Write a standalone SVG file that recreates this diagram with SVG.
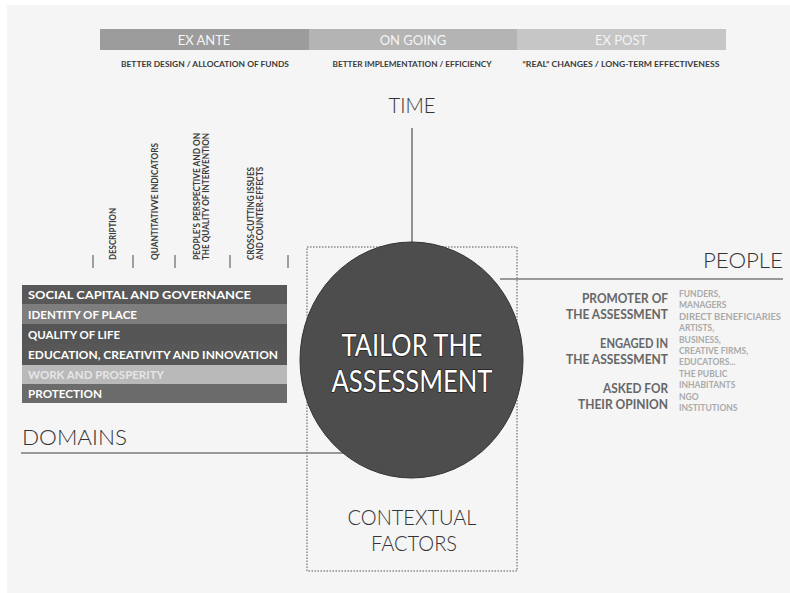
<svg xmlns="http://www.w3.org/2000/svg" width="790" height="593" viewBox="0 0 790 593">
<style>
text{font-family:"Lato","Liberation Sans",sans-serif}
.bar{fill:#fff;font-size:12px;font-weight:bold}
.tl{fill:#f4f4f4;font-size:13px;text-anchor:middle}
.sub{fill:#3a3a3a;font-size:8px;font-weight:bold;text-anchor:middle}
.rot{fill:#3a3a3a;font-size:8.5px;font-weight:bold}
.tick{stroke:#666;stroke-width:1.2}
.axis{stroke:#7a7a7a;stroke-width:1.6;fill:none}
.big{fill:#333;font-size:22px;font-weight:300}
.plbl{fill:#666;font-size:12.5px;font-weight:bold;text-anchor:end}
.plist{fill:#aaa;font-size:8.5px;font-weight:bold}
.ctr{fill:#fff;font-size:31px;font-weight:400;text-anchor:middle;stroke:#1e1e1e;stroke-width:1.6;paint-order:stroke fill;stroke-linejoin:round}
</style>
<rect width="790" height="593" fill="#fff"/>
<rect x="7" y="5" width="783" height="588" fill="#f5f5f5"/>

<g id="time-bar">
<rect x="100" y="29" width="209" height="21" fill="#9c9c9c"/>
<rect x="309" y="29" width="208" height="21" fill="#b4b4b4"/>
<rect x="517" y="29" width="209" height="21" fill="#c6c6c6"/>
<text class="tl" x="204" y="44.5">EX ANTE</text>
<text class="tl" x="413" y="44.5">ON GOING</text>
<text class="tl" x="621" y="44.5">EX POST</text>
<text class="sub" x="205" y="67" textLength="168" lengthAdjust="spacingAndGlyphs">BETTER DESIGN / ALLOCATION OF FUNDS</text>
<text class="sub" x="412" y="67" textLength="159" lengthAdjust="spacingAndGlyphs">BETTER IMPLEMENTATION / EFFICIENCY</text>
<text class="sub" x="621" y="67" textLength="197" lengthAdjust="spacingAndGlyphs">“REAL” CHANGES / LONG-TERM EFFECTIVENESS</text>
</g>

<g id="connectors">
<line class="axis" x1="412" y1="128" x2="412" y2="245"/>
<line class="axis" x1="500" y1="279" x2="783" y2="279"/>
<line class="axis" x1="21" y1="453" x2="345" y2="453"/>
</g>

<g id="time-label">
<text class="big" x="412" y="113" text-anchor="middle" textLength="47" lengthAdjust="spacingAndGlyphs">TIME</text>
</g>

<g id="columns">
<line class="tick" x1="93" y1="255" x2="93" y2="268"/>
<line class="tick" x1="133" y1="255" x2="133" y2="268"/>
<line class="tick" x1="175" y1="255" x2="175" y2="268"/>
<line class="tick" x1="230" y1="255" x2="230" y2="268"/>
<line class="tick" x1="288" y1="255" x2="288" y2="268"/>
<text class="rot" transform="translate(116,260) rotate(-90)" textLength="52" lengthAdjust="spacingAndGlyphs">DESCRIPTION</text>
<text class="rot" transform="translate(158,260) rotate(-90)" textLength="117" lengthAdjust="spacingAndGlyphs">QUANTITATIVVE INDICATORS</text>
<text class="rot" transform="translate(200,260) rotate(-90)" textLength="127" lengthAdjust="spacingAndGlyphs">PEOPLE’S PERSPECTIVE AND ON</text>
<text class="rot" transform="translate(209,260) rotate(-90)" textLength="127" lengthAdjust="spacingAndGlyphs">THE QUALITY OF INTERVENTION</text>
<text class="rot" transform="translate(254,260) rotate(-90)" textLength="93" lengthAdjust="spacingAndGlyphs">CROSS-CUTTING ISSUES</text>
<text class="rot" transform="translate(263,260) rotate(-90)" textLength="93" lengthAdjust="spacingAndGlyphs">AND COUNTER-EFFECTS</text>
</g>

<g id="domains">
<rect x="22" y="285" width="265" height="19" fill="#585858"/>
<rect x="22" y="304" width="265" height="20" fill="#7e7e7e"/>
<rect x="22" y="324" width="265" height="20" fill="#555"/>
<rect x="22" y="344" width="265" height="21" fill="#575757"/>
<rect x="22" y="365" width="265" height="19" fill="#b9b9b9"/>
<rect x="22" y="384" width="265" height="19" fill="#6b6b6b"/>
<text class="bar" x="28" y="299" textLength="223" lengthAdjust="spacingAndGlyphs">SOCIAL CAPITAL AND GOVERNANCE</text>
<text class="bar" x="28" y="318.5" textLength="109" lengthAdjust="spacingAndGlyphs">IDENTITY OF PLACE</text>
<text class="bar" x="28" y="338.5" textLength="92" lengthAdjust="spacingAndGlyphs">QUALITY OF LIFE</text>
<text class="bar" x="28" y="359" textLength="250" lengthAdjust="spacingAndGlyphs">EDUCATION, CREATIVITY AND INNOVATION</text>
<text class="bar" x="28" y="379" textLength="136" lengthAdjust="spacingAndGlyphs" style="fill:#e6e6e6">WORK AND PROSPERITY</text>
<text class="bar" x="28" y="398" textLength="74" lengthAdjust="spacingAndGlyphs">PROTECTION</text>
</g>

<g id="domains-label">
<text class="big" x="22" y="445" textLength="105" lengthAdjust="spacingAndGlyphs">DOMAINS</text>
</g>

<g id="contextual-factors">
<rect x="307" y="247" width="210" height="324" fill="none" stroke="#888" stroke-width="1.5" stroke-dasharray="1.5 1.5"/>
<text class="big" x="412" y="525" text-anchor="middle" textLength="129" lengthAdjust="spacingAndGlyphs">CONTEXTUAL</text>
<text class="big" x="414" y="551" text-anchor="middle" textLength="86" lengthAdjust="spacingAndGlyphs">FACTORS</text>
</g>

<g id="tailor">
<ellipse cx="411.5" cy="360" rx="111.5" ry="118" fill="#4d4d4d" stroke="#333" stroke-width="1"/>
<text class="ctr" x="412" y="356" textLength="141" lengthAdjust="spacingAndGlyphs">TAILOR THE</text>
<text class="ctr" x="412" y="392" textLength="161" lengthAdjust="spacingAndGlyphs">ASSESSMENT</text>
</g>

<g id="people">
<text class="big" x="783" y="268" text-anchor="end" textLength="80" lengthAdjust="spacingAndGlyphs">PEOPLE</text>
<text class="plbl" x="668" y="303" textLength="86" lengthAdjust="spacingAndGlyphs">PROMOTER OF</text>
<text class="plbl" x="668" y="319" textLength="102" lengthAdjust="spacingAndGlyphs">THE ASSESSMENT</text>
<text class="plbl" x="668" y="348" textLength="68" lengthAdjust="spacingAndGlyphs">ENGAGED IN</text>
<text class="plbl" x="668" y="364" textLength="102" lengthAdjust="spacingAndGlyphs">THE ASSESSMENT</text>
<text class="plbl" x="668" y="393" textLength="65" lengthAdjust="spacingAndGlyphs">ASKED FOR</text>
<text class="plbl" x="668" y="409" textLength="90" lengthAdjust="spacingAndGlyphs">THEIR OPINION</text>
<text class="plist" x="679" y="297">FUNDERS,</text>
<text class="plist" x="679" y="308.4">MANAGERS</text>
<text class="plist" x="679" y="319.8" textLength="102" lengthAdjust="spacingAndGlyphs">DIRECT BENEFICIARIES</text>
<text class="plist" x="679" y="331.2">ARTISTS,</text>
<text class="plist" x="679" y="342.6">BUSINESS,</text>
<text class="plist" x="679" y="354">CREATIVE FIRMS,</text>
<text class="plist" x="679" y="365.4">EDUCATORS...</text>
<text class="plist" x="679" y="376.8">THE PUBLIC</text>
<text class="plist" x="679" y="388.2">INHABITANTS</text>
<text class="plist" x="679" y="399.6">NGO</text>
<text class="plist" x="679" y="411">INSTITUTIONS</text>
</g>
</svg>
